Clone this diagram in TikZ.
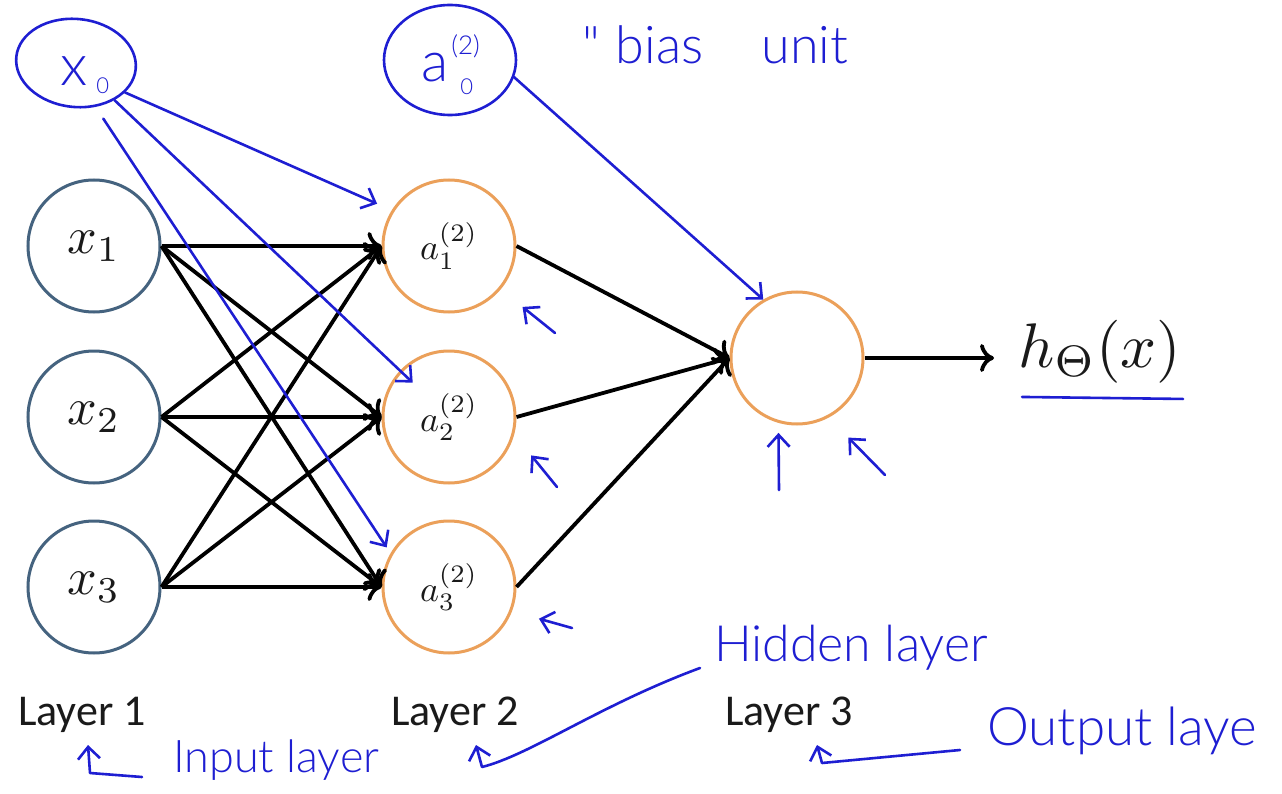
\documentclass[tikz,border=0pt]{standalone}
\usepackage{fontspec}
\usepackage{amsmath}
\newfontfamily\slidefont{Carlito}
\newfontfamily\handfont{Lato Light}
\usetikzlibrary{arrows.meta,shapes.geometric}
\definecolor{inputblue}{HTML}{45637F}
\definecolor{hiddenorange}{HTML}{EBA05A}
\definecolor{penblue}{HTML}{1E1ED2}
\definecolor{textgray}{HTML}{1A1A1A}

\begin{document}
\begin{tikzpicture}[x=1pt, y=-1pt,
	neuron/.style={circle, minimum size=132pt, inner sep=0pt, line width=3pt, fill=white, text=textgray},
	inputunit/.style={neuron, draw=inputblue},
	hiddenunit/.style={neuron, draw=hiddenorange},
	wire/.style={line width=3.8pt, -{Computer Modern Rightarrow[length=14pt, width=28pt]}},
	pen/.style={penblue, line width=2.6pt, line cap=round, line join=round},
	penarrow/.style={pen, -{Straight Barb[length=12pt, width=22pt]}},
	layerlabel/.style={font=\slidefont\fontsize{44}{50}\selectfont, text=textgray, inner sep=0pt, anchor=base},
	penlabel/.style={font=\handfont\fontsize{#1}{#1}\selectfont, text=penblue, inner sep=0pt, anchor=base west}]
	\path[fill=white, use as bounding box] (0,0) rectangle (1282,794);

	\foreach \n/\y in {1/246, 2/417, 3/587} {
		\node[inputunit] (x\n) at (94,\y) {\scalebox{5.2}{$x_{\n}$}};
		\node[hiddenunit] (h\n) at (449,\y) {\scalebox{3.6}{$a^{(2)}_{\n}$}};
	}
	\node[hiddenunit] (out) at (797,358) {};
	\node[anchor=base west, inner sep=0pt, text=textgray] (hx) at (1018,367) {\scalebox{6.3}{$h_\Theta(x)$}};

	\node[layerlabel] (lay1) at (82,725) {Layer 1};
	\node[layerlabel] (lay2) at (455,725) {Layer 2};
	\node[layerlabel] (lay3) at (789,725) {Layer 3};

	\foreach \i in {1,2,3} {
		\foreach \j in {1,2,3}
			\draw[wire] (x\i.east) -- (h\j.west);
		\draw[wire] (h\i.east) -- (out.west);
	}
	\draw[wire, shorten >=24pt] (out.east) -- (out.east -| hx.west);

	\node[ellipse, pen, draw, minimum width=120pt, minimum height=88pt, rotate=-6] (x0) at (76,63) {};
	\node[penlabel=58] (x0lbl) at (60,86) {x\raisebox{-8pt}{\fontsize{22}{22}\selectfont\hspace{9pt}0}};
	\node[ellipse, pen, draw, minimum width=132pt, minimum height=110pt] (a0) at (450,60) {};
	\node[penlabel=56] (a0lbl) at (421,82) {a\rlap{\raisebox{27pt}{\fontsize{26}{26}\selectfont\hspace{3pt}(2)}}\raisebox{-13pt}{\fontsize{22}{22}\selectfont\hspace{12pt}0}};
	\node[penlabel=52] (bias) at (582,64) {"\hspace{16pt}bias\hspace{44pt} unit};

	\draw[penarrow, shorten >=16pt] (x0.-25) -- (h1.148);
	\draw[penarrow, shorten >=50pt] (x0.-38) -- (h2.center);
	\draw[penarrow, shorten <=14pt, shorten >=7pt] (x0.-60) -- (h3.150);
	\draw[penarrow] (a0.-15) -- (out.120);

	\coordinate (t1) at (555,333);
	\coordinate (t2) at (557,487);
	\coordinate (t3) at (572,628);
	\coordinate (o1) at (779,490);
	\coordinate (o2) at (885,475);
	\draw[penarrow, shorten >=28pt] (t1) -- (h1.-40);
	\draw[penarrow, shorten >=27pt] (t2) -- (h2.-15);
	\draw[penarrow, shorten >=28pt] (t3) -- (h3.-21);
	\draw[penarrow, shorten >=10pt] (o1) -- (out.-106);
	\draw[penarrow, shorten >=28pt] (o2) -- (out.-62);

	\draw[pen] (hx.south west) ++(4,14) -- ++(161,2);

	\node[penlabel=45] (inlbl) at (173,772) {Input layer};
	\node[penlabel=50] (hidlbl) at (714,661) {Hidden layer};
	\node[penlabel=53] (outlbl) at (987,745) {Output laye};

	\coordinate (intail) at (142,777);
	\coordinate (incorner) at (90,773);
	\coordinate (intip) at (88,745);
	\draw[penarrow] (intail) -- (incorner) -- (intip);
	\coordinate (hidtail) at (700,668);
	\coordinate (hidcorner) at (482,767);
	\coordinate (hidtip) at (476,745);
	\draw[penarrow] (hidtail) .. controls (600,705) and (530,755) .. (hidcorner) -- (hidtip);
	\coordinate (outtail) at (960,750);
	\coordinate (outcorner) at (822,763);
	\coordinate (outtip) at (817,745);
	\draw[penarrow] (outtail) -- (outcorner) -- (outtip);
\end{tikzpicture}
\end{document}
